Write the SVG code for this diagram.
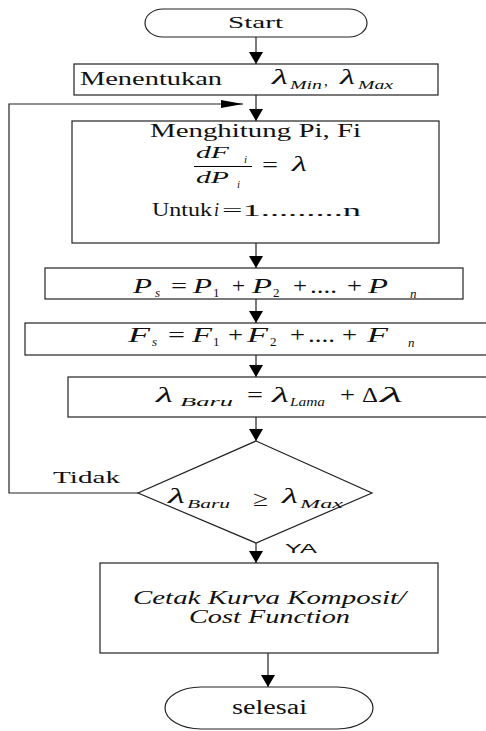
<svg xmlns="http://www.w3.org/2000/svg" width="486" height="731" viewBox="0 0 486 731">
<style>
.s{fill:#fff;stroke:#222;stroke-width:1.2}
.c{fill:none;stroke:#222;stroke-width:1.2}
text{font-family:"Liberation Serif","Times New Roman",serif;fill:#111}
.i{font-style:italic}
.sub{font-size:13px;font-style:italic}
.nsub{font-size:13px}
.ya{font-family:"Liberation Sans",Arial,sans-serif}
</style>
<defs>
<marker id="ah" viewBox="0 0 12 14" markerWidth="12" markerHeight="14" refX="12" refY="7" orient="auto" markerUnits="userSpaceOnUse"><path d="M0,0 L12,7 L0,14 z" fill="#000"/></marker>
<marker id="ahl" viewBox="0 0 22 8" markerWidth="22" markerHeight="8" refX="22" refY="4" orient="auto" markerUnits="userSpaceOnUse"><path d="M0,0 L22,4 L0,8 z" fill="#000"/></marker>
</defs>
<rect width="486" height="731" fill="#fff"/>
<g id="connectors">
<path class="c" d="M256,37 V64" marker-end="url(#ah)"/>
<path class="c" d="M256,95 V121" marker-end="url(#ah)"/>
<path class="c" d="M256,243 V268" marker-end="url(#ah)"/>
<path class="c" d="M256,299 V323" marker-end="url(#ah)"/>
<path class="c" d="M256,355 V377" marker-end="url(#ah)"/>
<path class="c" d="M256,417 V441" marker-end="url(#ah)"/>
<path class="c" d="M256,543 V563" marker-end="url(#ah)"/>
<path class="c" d="M268,653 V687" marker-end="url(#ah)"/>
<path class="c" d="M138,493 H9 V104 H243" marker-end="url(#ahl)"/>
<text x="53" y="483" font-size="17" textLength="67" lengthAdjust="spacingAndGlyphs">Tidak</text>
<text class="ya" x="285" y="553" font-size="13" textLength="32" lengthAdjust="spacingAndGlyphs">YA</text>
</g>
<g id="start">
<rect class="s" x="145" y="9" width="222" height="28" rx="18" ry="14"/>
<text x="228" y="28" font-size="17" textLength="55" lengthAdjust="spacingAndGlyphs">Start</text>
</g>
<g id="menentukan">
<rect class="s" x="74" y="64" width="364" height="31"/>
<text x="80" y="85" font-size="19" textLength="142" lengthAdjust="spacingAndGlyphs">Menentukan</text>
<text class="i" x="272" y="84" font-size="20" textLength="16" lengthAdjust="spacingAndGlyphs">λ</text>
<text class="sub" x="290" y="89" textLength="32" lengthAdjust="spacingAndGlyphs">Min</text>
<text x="324" y="86" font-size="15">,</text>
<text class="i" x="340" y="84" font-size="20" textLength="15" lengthAdjust="spacingAndGlyphs">λ</text>
<text class="sub" x="358" y="89" textLength="35" lengthAdjust="spacingAndGlyphs">Max</text>
</g>
<g id="menghitung">
<rect class="s" x="72" y="121" width="367" height="122"/>
<text x="150" y="137" font-size="18" textLength="211" lengthAdjust="spacingAndGlyphs">Menghitung Pi, Fi</text>
<text class="i" x="196" y="158" font-size="17" textLength="33" lengthAdjust="spacingAndGlyphs">dF</text>
<text class="sub" x="244" y="163" style="font-size:11px">i</text>
<line x1="194" y1="166.5" x2="252" y2="166.5" stroke="#000" stroke-width="1"/>
<text class="i" x="196" y="183" font-size="17" textLength="33" lengthAdjust="spacingAndGlyphs">dP</text>
<text class="sub" x="237" y="188" style="font-size:11px">i</text>
<text x="262" y="172" font-size="20" textLength="16" lengthAdjust="spacingAndGlyphs">=</text>
<text class="i" x="292" y="171" font-size="20" textLength="15" lengthAdjust="spacingAndGlyphs">λ</text>
<text x="152" y="216" font-size="18" textLength="60" lengthAdjust="spacingAndGlyphs">Untuk</text>
<text class="i" x="214" y="216" font-size="18">i</text>
<text x="222" y="216" font-size="17" textLength="139" lengthAdjust="spacingAndGlyphs">=1.........n</text>
</g>
<g id="ps">
<rect class="s" x="45" y="268" width="418" height="31"/>
<g font-size="22">
<text class="i" x="133" y="293" textLength="19" lengthAdjust="spacingAndGlyphs">P</text>
<text class="sub" x="155" y="297">s</text>
<text x="171" y="293" textLength="16" lengthAdjust="spacingAndGlyphs">=</text>
<text class="i" x="193" y="293" textLength="19" lengthAdjust="spacingAndGlyphs">P</text>
<text class="nsub" x="213" y="297">1</text>
<text x="232" y="293" textLength="13" lengthAdjust="spacingAndGlyphs">+</text>
<text class="i" x="252" y="293" textLength="20" lengthAdjust="spacingAndGlyphs">P</text>
<text class="nsub" x="273" y="297">2</text>
<text x="293" y="293" textLength="14" lengthAdjust="spacingAndGlyphs">+</text>
<text x="310" y="293" textLength="27" lengthAdjust="spacingAndGlyphs">....</text>
<text x="347" y="293" textLength="15" lengthAdjust="spacingAndGlyphs">+</text>
<text class="i" x="368" y="293" textLength="20" lengthAdjust="spacingAndGlyphs">P</text>
<text class="sub" x="410" y="298">n</text>
</g>
</g>
<g id="fs">
<rect class="s" x="25" y="323" width="470" height="32"/>
<g font-size="22">
<text class="i" x="128" y="342" textLength="22" lengthAdjust="spacingAndGlyphs">F</text>
<text class="sub" x="152" y="346">s</text>
<text x="168" y="342" textLength="17" lengthAdjust="spacingAndGlyphs">=</text>
<text class="i" x="192" y="342" textLength="20" lengthAdjust="spacingAndGlyphs">F</text>
<text class="nsub" x="213" y="346">1</text>
<text x="228" y="342" textLength="15" lengthAdjust="spacingAndGlyphs">+</text>
<text class="i" x="247" y="342" textLength="21" lengthAdjust="spacingAndGlyphs">F</text>
<text class="nsub" x="270" y="346">2</text>
<text x="290" y="342" textLength="15" lengthAdjust="spacingAndGlyphs">+</text>
<text x="308" y="342" textLength="27" lengthAdjust="spacingAndGlyphs">....</text>
<text x="342" y="342" textLength="15" lengthAdjust="spacingAndGlyphs">+</text>
<text class="i" x="367" y="342" textLength="21" lengthAdjust="spacingAndGlyphs">F</text>
<text class="sub" x="408" y="347">n</text>
</g>
</g>
<g id="lambda-baru">
<rect class="s" x="68" y="377" width="430" height="40"/>
<g font-size="22">
<text class="i" x="156" y="402" textLength="17" lengthAdjust="spacingAndGlyphs">λ</text>
<text class="sub" x="180" y="406" font-size="15" textLength="53" lengthAdjust="spacingAndGlyphs">Baru</text>
<text x="247" y="402" textLength="16" lengthAdjust="spacingAndGlyphs">=</text>
<text class="i" x="272" y="402" textLength="17" lengthAdjust="spacingAndGlyphs">λ</text>
<text class="sub" x="290" y="406" font-size="15" textLength="35" lengthAdjust="spacingAndGlyphs">Lama</text>
<text x="340" y="402" textLength="15" lengthAdjust="spacingAndGlyphs">+</text>
<text x="362" y="402" textLength="16" lengthAdjust="spacingAndGlyphs">Δ</text>
<text class="i" x="380" y="402" textLength="23" lengthAdjust="spacingAndGlyphs">λ</text>
</g>
</g>
<g id="decision">
<polygon class="s" points="256,441 372,493 256,543 138,493"/>
<g font-size="22">
<text class="i" x="168" y="503" textLength="17" lengthAdjust="spacingAndGlyphs">λ</text>
<text class="sub" x="187" y="508" font-size="15" textLength="43" lengthAdjust="spacingAndGlyphs">Baru</text>
<text x="253" y="506" textLength="15" lengthAdjust="spacingAndGlyphs">≥</text>
<text class="i" x="282" y="503" textLength="16" lengthAdjust="spacingAndGlyphs">λ</text>
<text class="sub" x="300" y="508" font-size="15" textLength="43" lengthAdjust="spacingAndGlyphs">Max</text>
</g>
</g>
<g id="cetak">
<rect class="s" x="100" y="563" width="338" height="90"/>
<text class="i" x="133" y="604" font-size="18" textLength="273" lengthAdjust="spacingAndGlyphs">Cetak Kurva Komposit/</text>
<text class="i" x="189" y="623" font-size="18" textLength="161" lengthAdjust="spacingAndGlyphs">Cost Function</text>
</g>
<g id="selesai">
<rect class="s" x="165" y="687" width="208" height="42" rx="36" ry="21"/>
<text x="232" y="714" font-size="20" textLength="75" lengthAdjust="spacingAndGlyphs">selesai</text>
</g>
</svg>
